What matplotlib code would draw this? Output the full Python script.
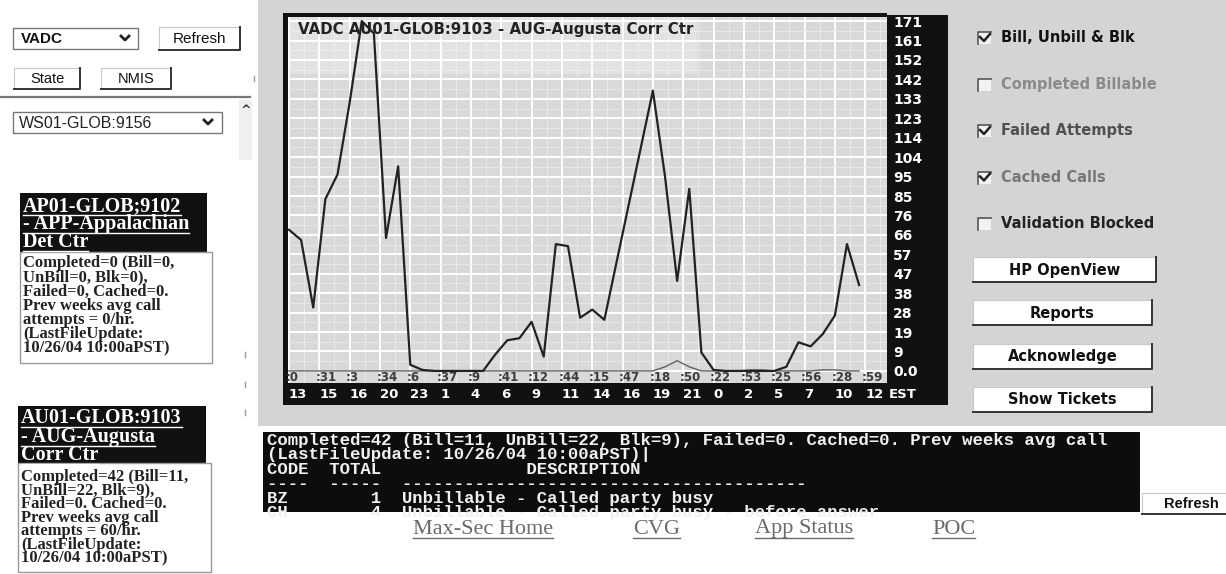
import numpy as np
import matplotlib.pyplot as plt
from matplotlib.patches import Rectangle

W, H = 1226, 574

# ---- chart data (hourly samples) ----
hours = np.arange(48)
bill_unbill_blk = [69, 64, 31, 84, 96, 131, 171, 165, 65, 100, 3, 0.5,
                   0, 0, 0, 0, 0, 8, 15, 16, 24, 7, 62, 61,
                   26, 30, 25, 53, 81, 109, 137, 95, 44, 89, 9, 0.5,
                   0, 0, 0, 0, 0, 2, 14, 12, 18, 27, 62, 42]
failed_cached = [0, 0, 0, 0, 0, 0, 0, 0, 0, 0, 0, 0,
                 0, 0, 0, 0, 0, 0, 0, 0, 0, 0, 0, 0,
                 0, 0, 0, 0, 0, 0, 0, 2, 5, 2, 0, 0,
                 0, 0, 0.5, 0.5, 0, 0, 0, 0, 0.5, 0.5, 0, 0]

y_labels = ['0.0', '9', '19', '28', '38', '47', '57', '66', '76', '85',
            '95', '104', '114', '123', '133', '142', '152', '161', '171']
hour_labels = ['13', '15', '16', '20', '23', '1', '4', '6', '9', '11',
               '14', '16', '19', '21', '0', '2', '5', '7', '10', '12']
minute_labels = [':0', ':31', ':3', ':34', ':6', ':37', ':9', ':41', ':12', ':44',
                 ':15', ':47', ':18', ':50', ':22', ':53', ':25', ':56', ':28', ':59']

checkboxes = ['Bill, Unbill & Blk', 'Completed Billable', 'Failed Attempts',
              'Cached Calls', 'Validation Blocked']
checked = [True, False, True, True, False]
check_colors = ['#111111', '#8a8a8a', '#505050', '#777777', '#222222']
buttons = ['HP OpenView', 'Reports', 'Acknowledge', 'Show Tickets']

site1_head = ['AP01-GLOB;9102', '- APP-Appalachian', 'Det Ctr']
site1_body = ['Completed=0 (Bill=0,', 'UnBill=0, Blk=0),', 'Failed=0, Cached=0.',
              'Prev weeks avg call', 'attempts = 0/hr.', '(LastFileUpdate:',
              '10/26/04 10:00aPST)']
site2_head = ['AU01-GLOB:9103', '- AUG-Augusta', 'Corr Ctr']
site2_body = ['Completed=42 (Bill=11,', 'UnBill=22, Blk=9),', 'Failed=0. Cached=0.',
              'Prev weeks avg call', 'attempts = 60/hr.', '(LastFileUpdate:',
              '10/26/04 10:00aPST)']

console_lines = [
    'Completed=42 (Bill=11, UnBill=22, Blk=9), Failed=0. Cached=0. Prev weeks avg call',
    '(LastFileUpdate: 10/26/04 10:00aPST)|',
    'CODE  TOTAL              DESCRIPTION',
    '----  -----  ---------------------------------------',
    'BZ        1  Unbillable - Called party busy',
    'CH        4  Unbillable - Called party busy - before answer',
]
links = ['Max-Sec Home', 'CVG', 'App Status', 'POC']

SANS = 'Liberation Sans'
SERIF = 'Liberation Serif'
MONO = 'Liberation Mono'

fig = plt.figure(figsize=(W / 100, H / 100), dpi=100)
fig.patch.set_facecolor('white')

# full-figure axes in pixel units for the page around the chart
ui = fig.add_axes([0, 0, 1, 1], zorder=0)
ui.set_xlim(0, W)
ui.set_ylim(H, 0)
ui.axis('off')


def box(x0, y0, x1, y1, **kw):
    r = Rectangle((x0, y0), x1 - x0, y1 - y0, **kw)
    ui.add_patch(r)
    return r


def button(x0, y0, x1, y1, label, size=10.5, weight='bold', family='DejaVu Sans'):
    box(x0, y0, x1, y1, facecolor='white', edgecolor='none')
    ui.plot([x0, x0, x1], [y1, y0, y0], color='#c8c8c8', lw=0.8)
    ui.plot([x0, x1, x1], [y1, y1, y0], color='#333333', lw=1.4)
    ui.text((x0 + x1) / 2, (y0 + y1) / 2 + 0.5, label, ha='center', va='center',
            fontsize=size, fontweight=weight, family=family, color='#111111')


def chevron(x, y):
    ui.plot([x - 4, x, x + 4], [y - 2, y + 2, y - 2], color='#222222', lw=2)


# gray page panel
box(258, 0, W, 426, facecolor='#d4d4d4', edgecolor='none')

# chart frame strips
box(887, 15, 948, 405, facecolor='#111111', edgecolor='none')
box(283, 383, 948, 405, facecolor='#111111', edgecolor='none')
box(283, 15, 288, 405, facecolor='#111111', edgecolor='none')
box(283, 13, 887, 17, facecolor='#111111', edgecolor='none')
ui.text(889, 394, 'EST', ha='left', va='center', fontsize=9.5, fontweight='bold',
        color='white')

# ---- the chart ----
ax = fig.add_axes([288 / W, 1 - 383 / H, (887 - 288) / W, (383 - 17) / H], zorder=2)
ax.set_facecolor('#d9d9d9')
ax.set_xlim(-0.08, 49.3)
ax.set_ylim(-5.9, 173)
for s in ax.spines.values():
    s.set_visible(False)

y_ticks = np.arange(19) * 171 / 18
x_ticks = np.arange(20) * 2.5
ax.yaxis.tick_right()
ax.set_yticks(y_ticks, y_labels, fontweight='bold')
ax.set_xticks(x_ticks, hour_labels, ha='left', fontweight='bold')
ax.set_xticks(np.arange(0, 49.3, 1.25), minor=True)
ax.set_yticks(np.arange(0, 173, 171 / 36), minor=True)
ax.tick_params(axis='y', which='major', length=0, pad=4.5, colors='white', labelsize=10)
ax.tick_params(axis='x', which='major', length=0, pad=3.5, colors='white', labelsize=9.5)
ax.tick_params(which='minor', length=0)
ax.set_axisbelow(True)
ax.grid(which='major', color='white', lw=1.4)
ax.grid(which='minor', color='#ececec', lw=0.6)

for pos, lab in zip(x_ticks, minute_labels):
    ax.text(pos - 0.3, 0.016, lab, transform=ax.get_xaxis_transform(), ha='left',
            va='center', fontsize=8.5, fontweight='bold', color='#3c3c3c')

ax.add_patch(Rectangle((0, 0.845), 0.683, 0.155, transform=ax.transAxes,
                       facecolor='white', alpha=0.25, edgecolor='none', zorder=1))
ax.plot(hours, failed_cached, color='#606060', lw=1.0, zorder=3)
ax.plot(hours, bill_unbill_blk, color='#222222', lw=1.6, zorder=4)
ax.text(0.0167, 0.9645, 'VADC AU01-GLOB:9103 - AUG-Augusta Corr Ctr',
        transform=ax.transAxes, ha='left', va='center', fontsize=10.8,
        fontweight='bold', color='#222222', zorder=5)

# ---- right control column ----
for k, (lab, on, col) in enumerate(zip(checkboxes, checked, check_colors)):
    y = 38 + k * 46.5
    box(978, y - 6, 991, y + 6, facecolor='#f2f2f2', edgecolor='none')
    ui.plot([978, 978, 991], [y + 6, y - 6, y - 6], color='#555555', lw=1.2)
    if on:
        ui.plot([980, 984, 990], [y - 1, y + 3, y - 4], color='#222222', lw=1.8)
    ui.text(1001, y, lab, ha='left', va='center', fontsize=10.5,
            fontweight='bold', family='DejaVu Sans', color=col)

for k, lab in enumerate(buttons):
    y0 = 257 + k * 43.3
    button(973, y0, 1156 if k == 0 else 1152, y0 + 25, lab)

# ---- left navigation panel ----
box(13, 28, 138, 49, facecolor='white', edgecolor='#777777', lw=1)
ui.text(21, 39, 'VADC', ha='left', va='center', fontsize=11, fontweight='bold',
        family=SANS, color='#111111')
chevron(125, 38)
button(159, 27, 240, 50, 'Refresh', size=11, weight='normal', family=SANS)
button(14, 68, 80, 89, 'State', size=10.5, weight='normal', family=SANS)
button(101, 68, 171, 89, 'NMIS', size=10.5, weight='normal', family=SANS)
ui.plot([0, 250], [97, 97], color='#777777', lw=1.6)
box(13, 112, 222, 133, facecolor='white', edgecolor='#777777', lw=1)
ui.text(19, 123, 'WS01-GLOB:9156', ha='left', va='center', fontsize=11.5,
        family=SANS, color='#222222')
chevron(208, 122)
box(239, 100, 252, 160, facecolor='#efefef', edgecolor='none')
ui.text(245.5, 110, '^', ha='center', va='center', fontsize=9, fontweight='bold',
        color='#333333')
for yy in (352, 382, 410):
    ui.plot([245, 245], [yy, yy + 5], color='#999999', lw=1)
ui.plot([254, 254], [76, 81], color='#999999', lw=1)

underlines = []


def site_card(x0, x1, head_top, head_bottom, body_bottom, head, body, head_y, body_y):
    box(x0, head_top, x1, head_bottom, facecolor='#111111', edgecolor='none')
    box(x0, head_bottom, x1 + 5, body_bottom, facecolor='white', edgecolor='#999999', lw=1)
    for txt, y in zip(head, head_y):
        t = ui.text(x0 + 3, y, txt, ha='left', va='center', fontsize=14.5,
                    fontweight='bold', family=SERIF, color='white')
        underlines.append((t, 'white'))
    for txt, y in zip(body, body_y):
        ui.text(x0 + 3, y, txt, ha='left', va='center', fontsize=12,
                fontweight='bold', family=SERIF, color='#222222')


site_card(20, 207, 193, 252, 363, site1_head, site1_body,
          [206, 224, 242], [263 + 14.3 * i for i in range(7)])
site_card(18, 206, 406, 463, 572, site2_head, site2_body,
          [418, 437, 455], [477 + 13.6 * i for i in range(7)])

# ---- bottom console ----
console = box(263, 432, 1140, 512, facecolor='#0d0d0d', edgecolor='none')
for k, line in enumerate(console_lines):
    t = ui.text(267, 440 + 14.6 * k, line, ha='left', va='center', fontsize=12.5,
                fontweight='bold', family=MONO, color='#f0f0f0')
    t.set_clip_path(console)

button(1142, 493, 1240, 514, 'Refresh', size=10.5, weight='bold', family=SANS)

for lab, x in zip(links, [413, 633, 755, 932]):
    t = ui.text(x, 529, lab, ha='left', va='center', fontsize=16,
                family=SERIF, color='#6a6a6a')
    underlines.append((t, '#6a6a6a'))

# underline the link-style texts using their rendered extents
fig.canvas.draw()
renderer = fig.canvas.get_renderer()
for t, col in underlines:
    bb = t.get_window_extent(renderer)
    ui.plot([bb.x0, bb.x1], [H - bb.y0 - 1, H - bb.y0 - 1], color=col, lw=1)

fig.savefig('out.png', dpi=100, facecolor='white')
